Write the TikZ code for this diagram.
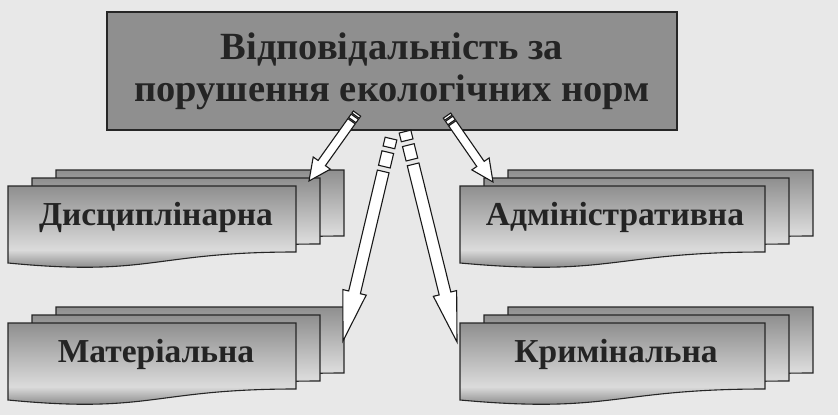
\documentclass[tikz,border=0pt]{standalone}
\usepackage{fontspec}
\setmainfont{Liberation Serif}
\usetikzlibrary{calc}

\definecolor{paper}{gray}{0.91}
\definecolor{boxgray}{gray}{0.56}
\definecolor{inkgray}{gray}{0.14}
\pgfdeclareverticalshading{docshade}{100bp}{color(0bp)=(black!62); color(25bp)=(black!62); color(40bp)=(black!14); color(75bp)=(black!44); color(100bp)=(black!44)}

\tikzset{
  sheetline/.style={draw=black!85, line width=1.1pt, shading=docshade},
  headbox/.style={draw=black!85, line width=1.2pt, fill=boxgray, minimum width=570pt, minimum height=118pt, align=center, font=\bfseries\fontsize{38.5}{42}\selectfont, text=inkgray},
  doclabel/.style={anchor=base, font=\bfseries\fontsize{33.5}{38}\selectfont, text=inkgray},
  arrowbody/.style={draw=black!90, line width=1.1pt, fill=white, line join=miter}
}

% one sheet: left x, top y, width
\newcommand\sheet[3]{%
  \begin{scope}[shift={(#1,#2)}]
    \draw[sheetline] (0,0) -- (#3,0) -- (#3,66) .. controls ({#3/2},66) and ({#3/2},91) .. (0,77) -- cycle;
  \end{scope}}
% three sheets, front one at x, y
\newcommand\sheetstack[3]{%
  \sheet{#1+48}{#2-16}{#3}
  \sheet{#1+24}{#2-8}{#3}
  \sheet{#1}{#2}{#3}}
% striped block arrow: tail, tip, half shaft, head length, stripe unit
\newcommand\stripearrow[5]{%
  \pgfmathsetmacro\stA{#5}
  \pgfmathsetmacro\stB{1.55*#5}
  \pgfmathsetmacro\stC{3.2*#5}
  \pgfmathsetmacro\stD{3.75*#5}
  \pgfmathsetmacro\hw{#3+6}
  \coordinate (s1) at ($(#1)!\stA pt!(#2)$);
  \coordinate (s2) at ($(#1)!\stB pt!(#2)$);
  \coordinate (s3) at ($(#1)!\stC pt!(#2)$);
  \coordinate (s4) at ($(#1)!\stD pt!(#2)$);
  \coordinate (hb) at ($(#2)!#4pt!(#1)$);
  \filldraw[arrowbody] ($(#1)!#3pt!90:(#2)$) -- ($(s1)!#3pt!90:(#2)$) -- ($(s1)!#3pt!-90:(#2)$) -- ($(#1)!#3pt!-90:(#2)$) -- cycle;
  \filldraw[arrowbody] ($(s2)!#3pt!90:(#2)$) -- ($(s3)!#3pt!90:(#2)$) -- ($(s3)!#3pt!-90:(#2)$) -- ($(s2)!#3pt!-90:(#2)$) -- cycle;
  \filldraw[arrowbody] ($(s4)!#3pt!90:(#2)$) -- ($(hb)!#3pt!90:(#2)$) -- ($(hb)!\hw pt!90:(#2)$) -- (#2)
    -- ($(hb)!\hw pt!-90:(#2)$) -- ($(hb)!#3pt!-90:(#2)$) -- ($(s4)!#3pt!-90:(#2)$) -- cycle;}

\begin{document}
\begin{tikzpicture}[x=1pt,y=-1pt]
  \fill[paper] (0,0) rectangle (838,415);
  \useasboundingbox (0,0) rectangle (838,415);

  \node[headbox] (resp) at (392,71) {Відповідальність за\\порушення екологічних норм};

  \sheetstack{8}{186}{288}
  \sheetstack{460}{186}{305}
  \sheetstack{8}{323}{288}
  \sheetstack{460}{323}{305}

  \node[doclabel] (disc) at (156,225) {Дисциплінарна};
  \node[doclabel] (admin) at (615,225) {Адміністративна};
  \node[doclabel] (mater) at (156,362) {Матеріальна};
  \node[doclabel] (crim) at (616,362) {Кримінальна};

  % arrow ends
  \coordinate (t1) at ($(resp.south)+(-35,-17)$);
  \coordinate (t2) at ($(resp.south)+(55,-15)$);
  \coordinate (t3) at ($(resp.south)+(-1,8)$);
  \coordinate (t4) at ($(resp.south)+(13,1)$);
  \coordinate (discin) at (309,181);
  \coordinate (adminin) at (493,182);
  \coordinate (materin) at (343,341);
  \coordinate (crimin) at (457,342);

  \stripearrow{t1}{discin}{4.5}{22}{2.5}
  \stripearrow{t2}{adminin}{4.5}{22}{2.5}
  \stripearrow{t3}{materin}{6}{50}{9}
  \stripearrow{t4}{crimin}{6}{50}{9}
\end{tikzpicture}
\end{document}
